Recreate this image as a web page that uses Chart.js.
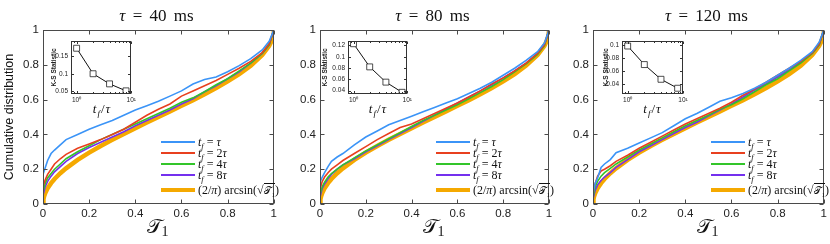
<!DOCTYPE html>
<html>
<head>
<meta charset="utf-8">
<script src="https://cdn.jsdelivr.net/npm/chart.js@4.4.1/dist/chart.umd.min.js"></script>
<style>
html, body { margin: 0; padding: 0; background: #fff; }
#fig { position: relative; width: 830px; height: 244px; overflow: hidden; font-family: "Liberation Serif", serif; color: #111; }
#fig canvas { position: absolute; }
.ttl { position: absolute; top: 5px; font-size: 17px; line-height: 22px; white-space: nowrap; transform: translateX(-50%); word-spacing: 3px; }
.xl { position: absolute; top: 213px; font-size: 20px; line-height: 26px; white-space: nowrap; transform: translateX(-50%); }
.row { position: absolute; height: 14px; white-space: nowrap; font-size: 12px; line-height: 14px; }
.sw { position: absolute; left: 0; width: 34px; }
.tx { position: absolute; left: 37px; top: 0; }
.ixl { position: absolute; top: 100px; font-size: 13px; line-height: 18px; white-space: nowrap; transform: translateX(-50%); letter-spacing: 1px; }
sub { font-size: 70%; vertical-align: -3px; line-height: 0; }
.ov { border-top: 1px solid #111; font-size: 10px; padding-top: 1px; }
</style>
</head>
<body>
<div id="fig"></div>
<script>
// x positions of the empirical CDF samples (first two points: origin and jump at 0)
const tGrid = [0, 0, 0.01, 0.02, 0.035, 0.05, 0.075, 0.1, 0.15, 0.2, 0.25, 0.3, 0.35, 0.4, 0.45, 0.5,
  0.55, 0.6, 0.65, 0.7, 0.75, 0.8, 0.85, 0.9, 0.95, 0.98, 1];

// reference curve (2/pi) arcsin(sqrt(T1))
const refT = [0, 0.002, 0.005, 0.01, 0.02, 0.035, 0.05, 0.075, 0.1, 0.15, 0.2, 0.25, 0.3, 0.35, 0.4, 0.45, 0.5,
  0.55, 0.6, 0.65, 0.7, 0.75, 0.8, 0.85, 0.9, 0.95, 0.98, 0.99, 0.995, 0.998, 1];
const refCdf = [0, 0.0285, 0.0451, 0.0638, 0.0903, 0.1198, 0.1436, 0.1766, 0.2048, 0.2532, 0.2952, 0.3333, 0.369, 0.403, 0.4359, 0.4681, 0.5,
  0.5319, 0.5641, 0.597, 0.631, 0.6667, 0.7048, 0.7468, 0.7952, 0.8564, 0.9097, 0.9362, 0.9549, 0.9715, 1];

// tau = 40 ms
const blue40 = [0, 0.17, 0.21, 0.25, 0.29, 0.31, 0.34, 0.37, 0.40, 0.43, 0.455, 0.48, 0.51, 0.54, 0.565, 0.59, 0.62, 0.65, 0.69, 0.715, 0.73, 0.76, 0.795, 0.835, 0.885, 0.935, 1];
const red40 = [0, 0.1, 0.14, 0.17, 0.2, 0.23, 0.26, 0.285, 0.32, 0.345, 0.37, 0.4, 0.43, 0.47, 0.51, 0.545, 0.575, 0.62, 0.65, 0.68, 0.71, 0.745, 0.78, 0.82, 0.87, 0.92, 1];
const green40 = [0, 0.07, 0.12, 0.15, 0.175, 0.2, 0.23, 0.26, 0.3, 0.335, 0.37, 0.4, 0.43, 0.46, 0.49, 0.52, 0.55, 0.585, 0.61, 0.645, 0.685, 0.72, 0.765, 0.81, 0.865, 0.915, 1];
const purple40 = [0, 0.05, 0.1, 0.13, 0.16, 0.185, 0.215, 0.245, 0.29, 0.325, 0.355, 0.385, 0.415, 0.45, 0.48, 0.51, 0.54, 0.575, 0.605, 0.645, 0.68, 0.72, 0.76, 0.81, 0.865, 0.915, 1];

// tau = 80 ms
const blue80 = [0, 0.125, 0.155, 0.18, 0.215, 0.245, 0.27, 0.29, 0.34, 0.385, 0.42, 0.455, 0.48, 0.505, 0.53, 0.555, 0.58, 0.605, 0.635, 0.665, 0.7, 0.74, 0.78, 0.825, 0.875, 0.925, 1];
const red80 = [0, 0.085, 0.13, 0.155, 0.18, 0.2, 0.225, 0.25, 0.29, 0.33, 0.37, 0.405, 0.44, 0.46, 0.49, 0.52, 0.55, 0.58, 0.615, 0.65, 0.69, 0.725, 0.765, 0.81, 0.865, 0.915, 1];
const green80 = [0, 0.055, 0.1, 0.125, 0.155, 0.175, 0.2, 0.225, 0.265, 0.305, 0.34, 0.375, 0.41, 0.445, 0.48, 0.51, 0.54, 0.57, 0.605, 0.64, 0.675, 0.715, 0.76, 0.805, 0.86, 0.91, 1];
const purple80 = [0, 0.04, 0.09, 0.115, 0.145, 0.17, 0.2, 0.225, 0.26, 0.3, 0.335, 0.37, 0.405, 0.44, 0.475, 0.51, 0.545, 0.58, 0.615, 0.65, 0.685, 0.725, 0.765, 0.81, 0.865, 0.915, 1];

// tau = 120 ms
const blue120 = [0, 0.06, 0.12, 0.15, 0.21, 0.23, 0.255, 0.295, 0.32, 0.35, 0.38, 0.41, 0.45, 0.49, 0.52, 0.555, 0.59, 0.61, 0.635, 0.665, 0.7, 0.74, 0.78, 0.825, 0.875, 0.93, 1];
const red120 = [0, 0.06, 0.12, 0.16, 0.19, 0.2, 0.22, 0.245, 0.28, 0.32, 0.355, 0.39, 0.425, 0.46, 0.49, 0.52, 0.55, 0.585, 0.625, 0.66, 0.7, 0.74, 0.78, 0.82, 0.87, 0.92, 1];
const green120 = [0, 0.04, 0.1, 0.13, 0.16, 0.18, 0.205, 0.23, 0.27, 0.31, 0.345, 0.38, 0.415, 0.45, 0.48, 0.51, 0.545, 0.57, 0.605, 0.645, 0.685, 0.72, 0.765, 0.81, 0.865, 0.915, 1];
const purple120 = [0, 0.03, 0.08, 0.11, 0.135, 0.155, 0.18, 0.21, 0.255, 0.3, 0.335, 0.37, 0.405, 0.44, 0.47, 0.505, 0.54, 0.575, 0.615, 0.655, 0.69, 0.73, 0.77, 0.815, 0.865, 0.915, 1];

// insets: K-S statistic vs t_f / tau
const ksRatio = [1, 2, 4, 8];
const ks40 = [0.173, 0.1, 0.071, 0.051];
const ks80 = [0.123, 0.082, 0.055, 0.037];
const ks120 = [0.099, 0.07, 0.047, 0.033];

const tauValues = ['40', '80', '120'];
const legendText = [
  '<i>t</i><sub><i>f</i></sub> = <i>τ</i>',
  '<i>t</i><sub><i>f</i></sub> = 2<i>τ</i>',
  '<i>t</i><sub><i>f</i></sub> = 4<i>τ</i>',
  '<i>t</i><sub><i>f</i></sub> = 8<i>τ</i>',
  '(2/<i>π</i>) arcsin(√<span class="ov">𝒯<sub>1</sub></span>)'
];

const colors = ['#3b94f7', '#e8401f', '#33c52a', '#7430ee', '#f5a900'];
const lineWidths = [1.6, 1.6, 1.6, 1.6, 4.5];
const legendRows = [142, 153, 164, 175, 190];

const fig = document.getElementById('fig');
const fmt = v => String(+Number(v).toFixed(3));

const framePlugin = {
  id: 'frame',
  beforeDatasetsDraw(chart, args, o) {
    if (!o.fill) return;
    const a = chart.chartArea;
    chart.ctx.save();
    chart.ctx.fillStyle = o.fill;
    chart.ctx.fillRect(a.left, a.top, a.right - a.left, a.bottom - a.top);
    chart.ctx.restore();
  },
  afterDatasetsDraw(chart, args, o) {
    const { ctx, chartArea: a, scales } = chart;
    const l = Math.round(a.left) + 0.5, r = Math.round(a.right) - 0.5;
    const t = Math.round(a.top) + 0.5, b = Math.round(a.bottom) - 0.5;
    ctx.save();
    ctx.strokeStyle = o.color;
    ctx.lineWidth = 1;
    ctx.strokeRect(l, t, r - l, b - t);
    ctx.beginPath();
    const xTick = (v, len) => {
      const px = Math.round(scales.x.getPixelForValue(v)) + 0.5;
      ctx.moveTo(px, b); ctx.lineTo(px, b - len);
      ctx.moveTo(px, t); ctx.lineTo(px, t + len);
    };
    scales.x.ticks.forEach(tk => xTick(tk.value, o.len));
    (o.minorX || []).forEach(v => xTick(v, o.len * 0.6));
    scales.y.ticks.forEach(tk => {
      const py = Math.round(scales.y.getPixelForValue(tk.value)) + 0.5;
      ctx.moveTo(l, py); ctx.lineTo(l + o.len, py);
      ctx.moveTo(r, py); ctx.lineTo(r - o.len, py);
    });
    ctx.stroke();
    ctx.restore();
  }
};

const panels = [
  { left: 0, yw: 43, padR: 6, plotL: 43, plotR: 274, series: [blue40, red40, green40, purple40], ks: ks40,
    iLeft: 48, iW: 90, iYw: 23, iPadR: 5, iMin: 0.042, iMax: 0.194, iStep: 0.05, yTitle: true },
  { left: 280, yw: 40, padR: 11, plotL: 320, plotR: 549, series: [blue80, red80, green80, purple80], ks: ks80,
    iLeft: 319, iW: 95, iYw: 29, iPadR: 6, iMin: 0.034, iMax: 0.128, iStep: 0.02, yTitle: false },
  { left: 550, yw: 43, padR: 6, plotL: 593, plotR: 824, series: [blue120, red120, green120, purple120], ks: ks120,
    iLeft: 600, iW: 90, iYw: 22, iPadR: 7, iMin: 0.024, iMax: 0.107, iStep: 0.02, yTitle: false }
];

const tickFont = { family: 'Liberation Sans', size: 11.5 };
const smallFont = { family: 'Liberation Sans', size: 6.5 };

function addCanvas(left, top, w, h) {
  const cv = document.createElement('canvas');
  cv.width = w; cv.height = h;
  cv.style.left = left + 'px';
  cv.style.top = top + 'px';
  fig.appendChild(cv);
  return cv;
}

function addDiv(cls, html, css) {
  const d = document.createElement('div');
  d.className = cls;
  d.innerHTML = html;
  Object.assign(d.style, css);
  fig.appendChild(d);
  return d;
}

panels.forEach((p, n) => {
  const datasets = p.series.map((s, k) => ({
    data: tGrid.map((t, i) => ({ x: t, y: s[i] })),
    borderColor: colors[k], borderWidth: lineWidths[k], pointRadius: 0, tension: 0
  }));
  datasets.push({
    data: refT.map((t, i) => ({ x: t, y: refCdf[i] })),
    borderColor: colors[4], borderWidth: lineWidths[4], pointRadius: 0, tension: 0
  });

  new Chart(addCanvas(p.left, 0, 280, 244), {
    type: 'line',
    data: { datasets },
    options: {
      responsive: false, animation: false, devicePixelRatio: 1,
      layout: { padding: { left: 0, right: p.padR, top: 30, bottom: 20 } },
      plugins: { legend: { display: false }, tooltip: { enabled: false }, frame: { color: '#4a4a4a', len: 4 } },
      scales: {
        x: {
          type: 'linear', min: 0, max: 1,
          grid: { display: false, drawTicks: false }, border: { display: false },
          ticks: { stepSize: 0.2, padding: 3, maxRotation: 0, font: tickFont, color: '#222', callback: fmt },
          afterFit: s => { s.height = 20; }
        },
        y: {
          min: 0, max: 1,
          grid: { display: false, drawTicks: false }, border: { display: false },
          ticks: { stepSize: 0.2, padding: 4, font: tickFont, color: '#222', callback: fmt },
          title: { display: p.yTitle, text: 'Cumulative distribution', color: '#111',
            font: { family: 'Liberation Sans', size: 12.5 }, padding: { top: 2, bottom: 0 } },
          afterFit: s => { s.width = p.yw; }
        }
      }
    },
    plugins: [framePlugin]
  });

  // inset
  new Chart(addCanvas(p.iLeft, 34, p.iW, 72), {
    type: 'line',
    data: {
      datasets: [{
        data: ksRatio.map((r, i) => ({ x: r, y: p.ks[i] })),
        borderColor: '#111', borderWidth: 1, tension: 0,
        pointStyle: 'rect', pointRadius: 4.2, pointBackgroundColor: '#fff',
        pointBorderColor: '#222', pointBorderWidth: 0.8
      }]
    },
    options: {
      responsive: false, animation: false, devicePixelRatio: 1,
      layout: { padding: { left: 0, right: p.iPadR, top: 4, bottom: 0 } },
      plugins: { legend: { display: false }, tooltip: { enabled: false },
        frame: { color: '#333', len: 2.5, fill: '#fff', minorX: [0.8, 0.9, 2, 3, 4, 5, 6, 7, 8, 9] } },
      scales: {
        x: {
          type: 'logarithmic', min: 0.79, max: 10,
          grid: { display: false, drawTicks: false }, border: { display: false },
          afterBuildTicks: s => { s.ticks = [{ value: 1 }, { value: 10 }]; },
          ticks: { padding: 2, maxRotation: 0, autoSkip: false, font: smallFont, color: '#222',
            callback: v => (v === 1 ? '10⁰' : v === 10 ? '10¹' : '') },
          afterFit: s => { s.height = 12; }
        },
        y: {
          min: p.iMin, max: p.iMax,
          grid: { display: false, drawTicks: false }, border: { display: false },
          ticks: { stepSize: p.iStep, includeBounds: false, padding: 3, font: smallFont, color: '#222', callback: fmt },
          title: { display: true, text: 'K-S Statistic', color: '#222',
            font: { family: 'Liberation Sans', size: 6.5, weight: 'bold' }, padding: { top: 2, bottom: 0 } },
          afterFit: s => { s.width = p.iYw; }
        }
      }
    },
    plugins: [framePlugin]
  });

  const mid = (p.plotL + p.plotR) / 2;
  addDiv('ttl', '<i>τ</i> = ' + tauValues[n] + ' ms', { left: (mid - 2) + 'px' });
  addDiv('xl', '𝒯<sub>1</sub>', { left: (mid - 1) + 'px' });
  const iMid = p.iLeft + p.iYw + (p.iW - p.iYw - p.iPadR) / 2;
  addDiv('ixl', '<i>t</i><sub><i>f</i></sub>/<i>τ</i>', { left: iMid + 'px' });

  legendText.forEach((txt, k) => {
    const row = addDiv('row', '', { left: (p.plotR - 113) + 'px', top: (legendRows[k] - 7) + 'px' });
    const sw = document.createElement('div');
    sw.className = 'sw';
    sw.style.background = colors[k];
    sw.style.height = (k === 4 ? 4 : 2) + 'px';
    sw.style.top = (7 - (k === 4 ? 2 : 1)) + 'px';
    row.appendChild(sw);
    const tx = document.createElement('div');
    tx.className = 'tx';
    tx.innerHTML = txt;
    row.appendChild(tx);
  });
});
</script>
</body>
</html>
